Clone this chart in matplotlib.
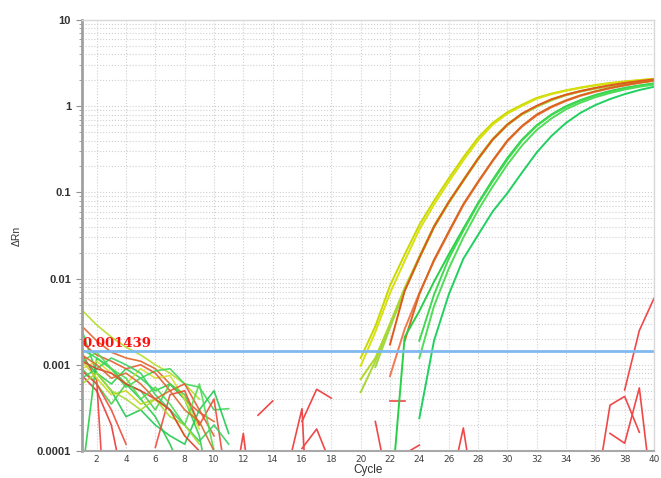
import numpy as np
import matplotlib
matplotlib.use("Agg")
import matplotlib.pyplot as plt
from matplotlib.ticker import LogLocator, FixedLocator, NullFormatter

nan = np.nan

# threshold
threshold = 0.001439

# amplification curves: (start cycle, colour, values up to cycle 40)
amp_yellow_a = (20, "#c8d800", [0.00120, 0.0028, 0.0083, 0.019, 0.042, 0.080, 0.145, 0.255, 0.43, 0.64,
                                0.85, 1.04, 1.25, 1.40, 1.53, 1.65, 1.76, 1.86, 1.94, 2.01, 2.08])
amp_yellow_b = (20, "#d8e010", [0.00097, 0.0024, 0.0068, 0.016, 0.037, 0.072, 0.132, 0.235, 0.40, 0.61,
                                0.82, 1.01, 1.22, 1.38, 1.51, 1.63, 1.74, 1.84, 1.92, 1.99, 2.06])
amp_yg_c = (20, "#b4d828", [0.00068, 0.0012, 0.0030, 0.0078, 0.018, 0.041, 0.078, 0.140, 0.25, 0.42,
                            0.62, 0.82, 1.00, 1.20, 1.36, 1.50, 1.62, 1.73, 1.83, 1.92, 2.00])
amp_yg_d = (20, "#a8d838", [0.00048, 0.0011, 0.0029, 0.0074, 0.0175, 0.040, 0.076, 0.137, 0.245, 0.41,
                            0.61, 0.81, 0.99, 1.18, 1.35, 1.49, 1.61, 1.72, 1.82, 1.91, 1.99])
amp_yg_e = (21, "#a0d840", [0.00094, 0.0027, 0.0072, 0.017, 0.039, 0.075, 0.135, 0.24, 0.405, 0.60,
                            0.80, 0.98, 1.17, 1.34, 1.48, 1.60, 1.71, 1.81, 1.90, 1.98])
amp_orange_f = (22, "#e0581c", [0.00172, 0.0072, 0.0175, 0.040, 0.077, 0.138, 0.245, 0.41, 0.61, 0.82,
                                1.01, 1.20, 1.36, 1.50, 1.63, 1.75, 1.86, 1.96, 2.05])
amp_salmon_g = (22, "#f07a50", [0.00074, 0.0026, 0.0068, 0.016, 0.034, 0.071, 0.13, 0.23, 0.39, 0.58,
                                0.78, 0.97, 1.15, 1.32, 1.47, 1.61, 1.74, 1.86, 1.97])
amp_orange_h = (23, "#d8661e", [0.0019, 0.0066, 0.0165, 0.035, 0.073, 0.133, 0.235, 0.40, 0.59, 0.80,
                                0.99, 1.17, 1.34, 1.49, 1.63, 1.76, 1.88, 1.99])
amp_green_i = (22, "#28d048", [0.00002, 0.0021, 0.0042, 0.0092, 0.019, 0.038, 0.075, 0.14, 0.25, 0.41,
                               0.60, 0.80, 1.00, 1.18, 1.35, 1.50, 1.63, 1.74, 1.84])
amp_green_j = (24, "#40d850", [0.0019, 0.0065, 0.017, 0.036, 0.073, 0.135, 0.24, 0.40, 0.59, 0.79,
                               0.98, 1.16, 1.33, 1.48, 1.61, 1.72, 1.82])
amp_green_k = (24, "#50dc58", [0.0012, 0.0048, 0.013, 0.030, 0.062, 0.117, 0.21, 0.35, 0.53, 0.72,
                               0.92, 1.10, 1.27, 1.42, 1.56, 1.68, 1.78])
amp_green_l = (24, "#20d060", [0.00024, 0.0019, 0.0065, 0.017, 0.032, 0.060, 0.098, 0.17, 0.29, 0.45,
                               0.64, 0.84, 1.03, 1.21, 1.38, 1.54, 1.68])

amp_curves = [amp_yellow_a, amp_yellow_b, amp_yg_c, amp_yg_d, amp_yg_e, amp_orange_f,
              amp_salmon_g, amp_orange_h, amp_green_i, amp_green_j, amp_green_k, amp_green_l]

# baseline noise, cycles 1..11
noise_cycles = list(range(1, 12))
noise = [
    ("#b4dc28", [0.0043, 0.0029, 0.0021, 0.0016, 0.0013, 0.0010, 0.0008, 0.0006, 0.0004, nan, nan]),
    ("#e0642a", [0.0028, 0.0019, 0.0014, 0.0012, 0.0011, 0.0009, 0.0006, 0.0004, 0.00028, 0.00022, nan]),
    ("#30d04c", [0.0025, 0.0008, 0.0006, 0.0009, 0.0007, 0.0005, 0.0006, 0.0004, 0.00015, 0.00002, nan]),
    ("#f04040", [0.00136, 0.00066, 0.0000012, nan, nan, nan, nan, nan, nan, nan, nan]),
    ("#e83838", [0.00075, 0.0005, 0.0002, 0.00003, nan, nan, nan, nan, nan, nan, nan]),
    ("#28cc48", [0.00005, 0.0012, 0.0009, 0.0006, 0.0004, 0.00025, 0.00012, 0.00005, nan, nan, nan]),
    ("#d8e030", [0.0009, 0.0011, 0.0008, 0.0006, 0.0009, 0.0007, 0.00075, 0.0004, 0.00018, nan, nan]),
    ("#40d858", [0.0015, 0.0012, 0.0009, 0.00055, 0.0007, 0.00085, 0.0009, 0.0006, 0.00055, 0.0003, 0.00031]),
    ("#20c850", [0.0012, 0.0008, 0.0005, 0.00025, 0.0003, 0.0002, 0.00015, 0.00012, 0.0003, 0.0005, 0.00016]),
    ("#e85a30", [0.0018, 0.0013, 0.0011, 0.0009, 0.0010, 0.0008, 0.0005, 0.0006, 0.0003, 0.00015, nan]),
    ("#c8d820", [0.0011, 0.0007, 0.00045, 0.0005, 0.00035, 0.0004, 0.0003, 0.00015, nan, nan, nan]),
    ("#48d048", [0.0009, 0.0006, 0.00035, 0.0006, 0.0005, 0.0003, 0.0006, 0.00045, 0.0002, nan, nan]),
    ("#f04a3a", [0.00085, 0.0006, 0.0003, 0.00012, nan, 0.00011, 0.00045, 0.0005, 0.0002, 0.0004, 0.00003]),
    ("#38d060", [0.0007, 0.0009, 0.0012, 0.0010, 0.0008, 0.00045, 0.0003, 0.0002, 0.00013, 0.0002, 0.00012]),
    ("#a8d830", [0.0006, 0.0008, 0.0005, 0.0004, 0.0003, 0.0004, 0.00025, 0.0002, 0.00012, nan, nan]),
    ("#e04030", [0.0011, 0.0009, 0.0008, 0.0006, 0.0005, 0.0004, 0.0003, 0.00015, 0.0001, 0.00003, nan]),
    ("#50dc50", [0.0011, 0.0014, 0.0009, 0.0007, 0.0004, 0.00055, 0.00035, 0.0002, 0.0006, 0.0001, nan]),
    ("#d86a30", [0.0013, 0.0010, 0.0007, 0.0008, 0.0006, 0.0004, 0.0005, 0.0003, 0.00022, 0.0001, nan]),
]

# scattered red traces of the negative wells: (cycles, values)
red_bits = [
    ([11, 12, 13], [0.000016, 0.00016, 0.000007]),
    ([13, 14], [0.00026, 0.00038]),
    ([15, 16, 17], [0.00006, 0.00031, 0.0000001]),
    ([16, 17, 18], [0.00022, 0.00052, 0.00041]),
    ([16, 17, 18], [0.000107, 0.00018, 0.000068]),
    ([21, 22], [0.00022, 0.000031]),
    ([22, 23], [0.00038, 0.00038]),
    ([23, 24], [0.000093, 0.000117]),
    ([26, 27, 28], [0.000031, 0.000185, 0.000015]),
    ([36, 37, 38, 39], [0.00003, 0.00034, 0.00043, 0.000165]),
    ([38, 39, 40], [0.00051, 0.0025, 0.0059]),
    ([37, 38, 39, 40], [0.00016, 0.000123, 0.00054, 0.00002]),
]
red_colour = "#f04848"

fig = plt.figure(figsize=(6.61, 4.78), dpi=100)
ax = fig.add_axes([82 / 661, 27 / 478, 572 / 661, 431 / 478])

for col, vals in noise:
    ax.plot(noise_cycles, vals, color=col, lw=1.2, alpha=0.9)

for xs, vals in red_bits:
    ax.plot(xs, vals, color=red_colour, lw=1.2)

for start, col, vals in amp_curves:
    xs = list(range(start, start + len(vals)))
    ax.plot(xs, vals, color=col, lw=1.4)

ax.axhline(threshold, color="#80b8f0", lw=2)
ax.text(1.05, threshold * 1.04, "0.001439", color="#ff1010", fontsize=9.5,
        family="DejaVu Serif", weight="bold", va="bottom", ha="left")

ax.set_yscale("log")
ax.set_xlim(1, 40)
ax.set_ylim(1e-4, 10)

ax.xaxis.set_major_locator(FixedLocator(range(2, 41, 2)))
ax.set_xticklabels([str(v) for v in range(2, 41, 2)], fontsize=6.5, color="#404040")
ax.yaxis.set_major_locator(FixedLocator([1e-4, 1e-3, 1e-2, 1e-1, 1, 10]))
ax.set_yticklabels(["0.0001", "0.001", "0.01", "0.1", "1", "10"], fontsize=8,
                   color="#333333", family="Liberation Sans", weight="bold")
ax.yaxis.set_minor_locator(LogLocator(base=10, subs=range(2, 10)))
ax.yaxis.set_minor_formatter(NullFormatter())
ax.tick_params(axis="y", which="major", length=4, color="#909090", pad=4)
ax.tick_params(axis="y", which="minor", length=2.5, color="#909090")
ax.tick_params(axis="x", length=0, pad=3)

ax.grid(True, which="major", axis="x", color="#d0d0d0", ls=":", lw=0.8)
ax.grid(True, which="both", axis="y", color="#d0d0d0", ls=":", lw=0.8)
ax.set_axisbelow(True)

for side in ["top", "right"]:
    ax.spines[side].set_color("#d8d8d8")
    ax.spines[side].set_linewidth(1)
ax.spines["left"].set_color("#a0a0a0")
ax.spines["left"].set_linewidth(2)
ax.spines["bottom"].set_color("#a8a8a8")
ax.spines["bottom"].set_linewidth(1.5)

ax.set_xlabel("Cycle", fontsize=8.5, color="#333333", family="Liberation Sans")
ax.xaxis.set_label_coords(0.5, -0.03)
ax.set_ylabel("\u0394Rn", fontsize=7.5, color="#333333", family="Liberation Sans")
ax.yaxis.set_label_coords(-0.105, 0.5)

fig.savefig("out.png", dpi=100)
